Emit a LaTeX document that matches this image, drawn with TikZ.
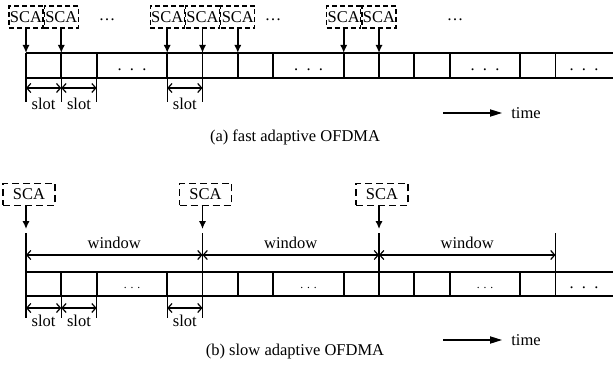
\documentclass[tikz,border=0pt]{standalone}
\usepackage{fontspec}
\setmainfont{Liberation Serif}
\usetikzlibrary{arrows.meta,positioning}

\begin{document}
\begin{tikzpicture}[x=0.5pt,y=-0.5pt,
  every node/.style={inner sep=0pt,font=\fontsize{8.25}{10}\selectfont},
  tape/.style={line width=0.9pt},
  scabox/.style={draw,line width=0.6pt,dash pattern=on 2.5pt off 1.5pt,minimum height=11pt},
  scaarrow/.style={line width=0.9pt,-{Latex[length=4pt,width=3.6pt]}},
  dimtick/.style={line width=0.6pt},
  dimline/.style={line width=0.6pt,{Straight Barb[length=2pt,width=4.5pt]}-{Straight Barb[length=2pt,width=4.5pt]}},
  timearrow/.style={line width=0.6pt,-{Triangle[length=6pt,width=3.6pt]}}]

  \useasboundingbox (0,0) rectangle (613,368);
  \def\cw{35.3}

  % (a) fast adaptive: the slot tape
  \draw[tape] (26,53) -- (613,53) (26,78) -- (613,78);
  \foreach \k in {0,1,2,4,5,6,7,9,10,11,12,14,15} {
    \coordinate (at\k) at ({26+\cw*\k},53);
    \coordinate (ab\k) at ({26+\cw*\k},78);
    \draw[tape] (at\k) -- (ab\k);
  }
  \foreach \i/\x in {1/132, 2/308.6, 3/485, 4/584}
    \node (ad\i) at (\x,70) {.~~.~~.};

  % one SCA per slot
  \foreach \i/\k in {1/0, 2/1, 3/4, 4/5, 5/6, 6/9, 7/10} {
    \node[scabox,minimum width=17pt] (sa\i) at ({26+\cw*\k},17) {SCA};
    \draw[scaarrow] (sa\i.south -| at\k) -- (at\k);
  }
  \foreach \i/\x in {1/107, 2/273, 3/455}
    \node (ae\i) at (\x,20) {\ldots};

  % slot widths
  \foreach \k/\j in {0/1, 1/2, 4/5} {
    \draw[dimtick] (ab\k) -- ++(0,24) (ab\j) -- ++(0,24);
    \draw[dimline] ({26+\cw*\k},88) -- ({26+\cw*\j},88);
    \node (as\k) at ({26+\cw*(\k+0.5)},104) {slot};
  }

  \coordinate (ta0) at (443,113);
  \node (ta) at (526,113) {time};
  \draw[timearrow] (ta0) -- (502,113);
  \node (capa) at (295,137) {(a) fast adaptive OFDMA};

  % (b) slow adaptive: the slot tape
  \draw[tape] (26,272) -- (613,272) (26,296) -- (613,296);
  \foreach \k in {0,1,2,4,5,6,7,9,10,11,12,14,15} {
    \coordinate (bt\k) at ({26+\cw*\k},272);
    \coordinate (bb\k) at ({26+\cw*\k},296);
    \draw[tape] (bt\k) -- (bb\k);
  }
  \foreach \i/\x in {1/132, 2/308.6, 3/485}
    \node (bd\i) at (\x,288) {\fontsize{5.8}{7}\selectfont . . .};
  \node (bd4) at (584,288) {.~~.~~.};

  % one SCA per window
  \foreach \i/\k in {1/0, 2/5, 3/10} {
    \node[scabox,dash pattern=on 3.5pt off 2pt,minimum width=26pt] (sb\i) at ({29+\cw*\k},194.5) {SCA};
    \coordinate (bw\k) at ({26+\cw*\k},233);
    \draw[scaarrow] (sb\i.south -| bw\k) -- ++(0,23);
    \draw[tape] (bw\k) -- (bt\k);
  }
  \coordinate (bw15) at ({26+\cw*15},233);
  \draw[tape] (bw15) -- (bt15);

  % window widths
  \foreach \k/\j in {0/5, 5/10, 10/15} {
    \draw[dimline] ({26+\cw*\k},255) -- ({26+\cw*\j},255);
    \node (bwl\k) at ({26+\cw*(\k+\j)/2},243) {window};
  }

  % slot widths
  \foreach \k/\j in {0/1, 1/2, 4/5} {
    \draw[dimtick] (bb\k) -- ++(0,22) (bb\j) -- ++(0,22);
    \draw[dimline] ({26+\cw*\k},308) -- ({26+\cw*\j},308);
    \node (bs\k) at ({26+\cw*(\k+0.5)},321) {slot};
  }

  \coordinate (tb0) at (443,340);
  \node (tb) at (526,340) {time};
  \draw[timearrow] (tb0) -- (502,340);
  \node (capb) at (295,352) {(b) slow adaptive OFDMA};
\end{tikzpicture}
\end{document}
